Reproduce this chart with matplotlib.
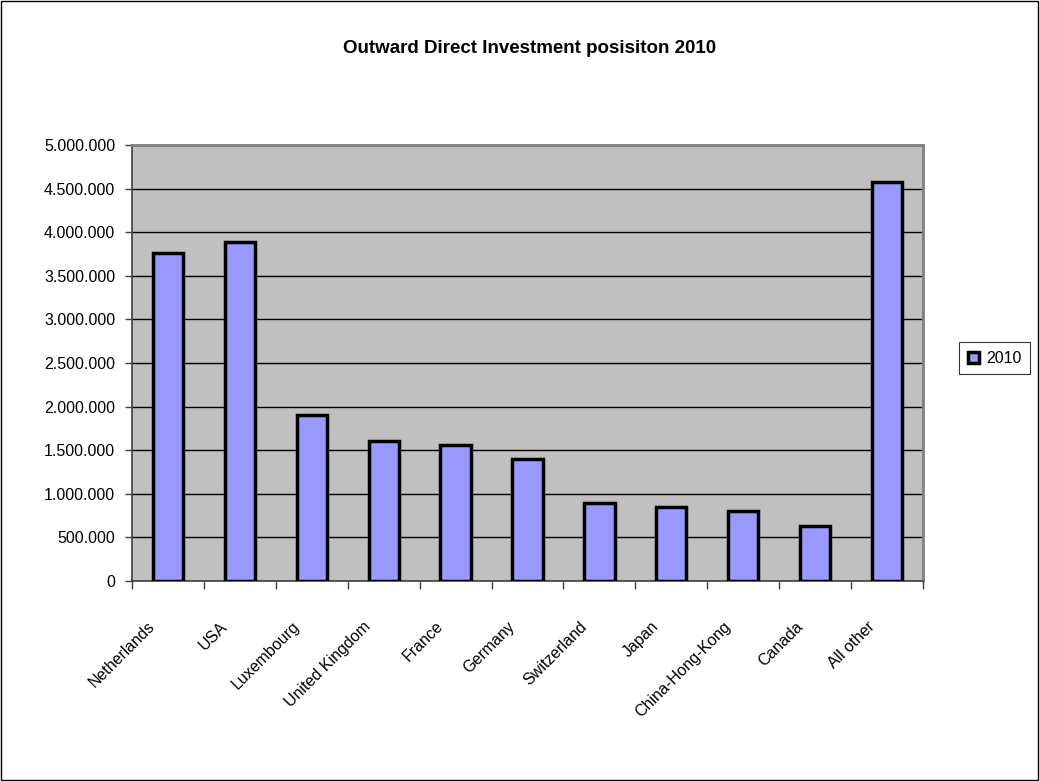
import numpy as np
import matplotlib.pyplot as plt
import matplotlib.transforms as mtransforms
from matplotlib.patches import Rectangle
from matplotlib.ticker import FuncFormatter, MultipleLocator, FixedLocator

plt.rcParams['font.family'] = ['Liberation Sans', 'DejaVu Sans']

countries = ['Netherlands', 'USA', 'Luxembourg', 'United Kingdom', 'France',
             'Germany', 'Switzerland', 'Japan', 'China-Hong-Kong', 'Canada',
             'All other']
odi_2010 = [3761000, 3888000, 1904000, 1602000, 1563000, 1396000,
            891000, 845000, 806000, 634000, 4572000]

fig = plt.figure(figsize=(10.4, 7.81), dpi=100)
ax = fig.add_axes([0.1269, 0.2561, 0.7606, 0.5582])

x = np.arange(len(countries))
ax.bar(x, odi_2010, width=0.42, color='#9999FF', edgecolor='black',
       linewidth=2.5, label='2010', zorder=3)

ax.set_facecolor('#C0C0C0')
ax.set_xlim(-0.5, len(countries) - 0.5)
ax.set_ylim(0, 5000000)
ax.yaxis.set_major_locator(MultipleLocator(500000))
ax.yaxis.set_major_formatter(
    FuncFormatter(lambda v, p: f'{int(v):,}'.replace(',', '.')))
ax.grid(axis='y', color='black', linewidth=1, zorder=1)

# category labels in the middle, tick marks on the boundaries
ax.set_xticks(x)
ax.set_xticklabels(countries, rotation=45, ha='right', va='center',
                   rotation_mode='anchor', fontsize=11.5)
ax.tick_params(axis='x', which='major', length=0, pad=31)
shift = mtransforms.ScaledTranslation(-15 / 100, 0, fig.dpi_scale_trans)
for lbl in ax.get_xticklabels():
    lbl.set_transform(lbl.get_transform() + shift)
ax.xaxis.set_minor_locator(FixedLocator(np.arange(-0.5, len(countries), 1)))
ax.tick_params(axis='x', which='minor', length=6, width=1, color='#404040')
ax.tick_params(axis='y', length=5, width=1, color='#404040', labelsize=11.5,
               pad=7)

for side in ['left', 'bottom']:
    ax.spines[side].set_color('#404040')
    ax.spines[side].set_linewidth(1.2)
for side in ['top', 'right']:
    ax.spines[side].set_color('#808080')
    ax.spines[side].set_linewidth(2)

fig.text(0.509, 0.9385, 'Outward Direct Investment posisiton 2010',
         ha='center', va='center', fontsize=13.5, fontweight='bold')

leg = ax.legend(loc='center left', bbox_to_anchor=(1.0455, 0.511),
                borderaxespad=0, frameon=True, fancybox=False,
                edgecolor='black', fontsize=11.5, handlelength=0.7,
                handleheight=0.7, handletextpad=0.45, borderpad=0.55)
leg.get_frame().set_linewidth(0.8)

fig.patches.append(Rectangle((0.0005, 0.0007), 0.998, 0.998,
                             transform=fig.transFigure, fill=False,
                             edgecolor='black', linewidth=1))

fig.savefig('out.png', dpi=100)
